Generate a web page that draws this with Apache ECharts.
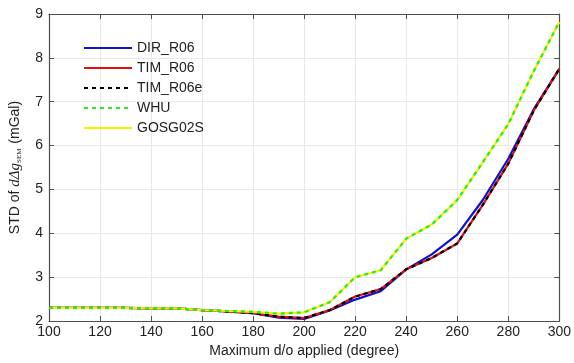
<!DOCTYPE html>
<html>
<head>
<meta charset="utf-8">
<script src="https://cdn.jsdelivr.net/npm/echarts@6/dist/echarts.min.js"></script>
<style>
  html, body { margin: 0; padding: 0; background: #fff; }
  #chart { width: 574px; height: 363px; }
</style>
</head>
<body>
<div id="chart"></div>
<script>
const degrees = [100, 110, 120, 130, 140, 150, 160, 170, 180, 190, 200, 210, 220, 230, 240, 250, 260, 270, 280, 290, 300];

const dirR06 = [2.3, 2.3, 2.3, 2.3, 2.29, 2.29, 2.25, 2.22, 2.18, 2.08, 2.05, 2.24, 2.49, 2.68, 3.18, 3.52, 3.97, 4.76, 5.7, 6.83, 7.75];
const timR06 = [2.3, 2.3, 2.3, 2.3, 2.29, 2.29, 2.25, 2.22, 2.18, 2.1, 2.07, 2.25, 2.56, 2.73, 3.18, 3.44, 3.77, 4.65, 5.59, 6.8, 7.75];
const timR06e = [2.3, 2.3, 2.3, 2.3, 2.29, 2.29, 2.25, 2.22, 2.18, 2.1, 2.07, 2.25, 2.56, 2.73, 3.18, 3.44, 3.77, 4.65, 5.59, 6.8, 7.75];
const whu = [2.3, 2.3, 2.3, 2.3, 2.29, 2.29, 2.25, 2.23, 2.21, 2.17, 2.2, 2.43, 3.0, 3.16, 3.88, 4.2, 4.76, 5.62, 6.49, 7.7, 8.82];
const gosg02s = [2.3, 2.3, 2.3, 2.3, 2.29, 2.29, 2.25, 2.23, 2.21, 2.17, 2.2, 2.43, 3.0, 3.16, 3.88, 4.2, 4.76, 5.62, 6.49, 7.7, 8.82];

const xTicks = [100, 120, 140, 160, 180, 200, 220, 240, 260, 280, 300];
const yTicks = [2, 3, 4, 5, 6, 7, 8, 9];

const pairs = vals => degrees.map((d, i) => [d, vals[i]]);

const font = "Liberation Sans, Arial, sans-serif";
const axisColor = "#4d4d4d";
const gridColor = "#e8e8e8";

const line = (name, vals, color, dashed, z) => ({
  name,
  type: "line",
  data: pairs(vals),
  showSymbol: false,
  symbol: "none",
  z,
  lineStyle: { color, width: 2.2, type: dashed ? [4, 4] : "solid" },
  itemStyle: { color },
});

const xBase = {
  type: "value",
  min: 100,
  max: 300,
  interval: 20,
  axisLine: { show: true, onZero: false, lineStyle: { color: axisColor, width: 1.2 } },
  axisTick: { show: true, inside: true, length: 5, lineStyle: { color: axisColor } },
};
const yBase = {
  type: "value",
  min: 2,
  max: 9,
  interval: 1,
  axisLine: { show: true, onZero: false, lineStyle: { color: axisColor, width: 1.2 } },
  axisTick: { show: true, inside: true, length: 5, lineStyle: { color: axisColor } },
};

const chart = echarts.init(document.getElementById("chart"));
chart.setOption({
  backgroundColor: "#fff",
  animation: false,
  grid: { left: 48, right: 12, top: 14, bottom: 39 },
  legend: {
    left: 78,
    top: 36,
    orient: "vertical",
    itemWidth: 48,
    itemHeight: 14,
    itemGap: 6,
    itemStyle: { opacity: 0 },
    textStyle: { fontFamily: font, fontSize: 14, color: "#222" },
    data: ["DIR_R06", "TIM_R06", "TIM_R06e", "WHU", "GOSG02S"],
  },
  xAxis: [
    {
      ...xBase,
      position: "bottom",
      name: "Maximum d/o applied (degree)",
      nameLocation: "middle",
      nameGap: 22,
      nameTextStyle: { fontFamily: font, fontSize: 14, color: "#222" },
      axisLabel: {
        fontFamily: font, fontSize: 14, color: "#222", margin: 4,
        formatter: v => (xTicks.includes(v) ? String(v) : ""),
      },
      splitLine: { show: true, lineStyle: { color: gridColor } },
    },
    { ...xBase, position: "top", axisLabel: { show: false }, splitLine: { show: false } },
  ],
  yAxis: [
    {
      ...yBase,
      position: "left",
      name: "{t|STD of }{i|dΔg}{s|SEM}{t| (mGal)}",
      nameLocation: "middle",
      nameGap: 26,
      nameRotate: 90,
      nameTextStyle: {
        rich: {
          t: { fontFamily: font, fontSize: 14, color: "#222" },
          i: { fontFamily: "Liberation Serif, serif", fontStyle: "italic", fontSize: 15, color: "#222" },
          s: { fontFamily: "Liberation Serif, serif", fontSize: 7, color: "#222", verticalAlign: "bottom", padding: [8, 1, 0, 0] },
        },
      },
      axisLabel: {
        fontFamily: font, fontSize: 14, color: "#222", margin: 6,
        formatter: v => (yTicks.includes(v) ? String(v) : ""),
      },
      splitLine: { show: true, lineStyle: { color: gridColor } },
    },
    { ...yBase, position: "right", axisLabel: { show: false }, splitLine: { show: false } },
  ],
  series: [
    line("DIR_R06", dirR06, "#1010d0", false, 2),
    line("TIM_R06", timR06, "#e01010", false, 3),
    line("TIM_R06e", timR06e, "#000000", true, 4),
    line("WHU", whu, "#22ee22", true, 6),
    line("GOSG02S", gosg02s, "#f5f000", false, 5),
  ],
});
</script>
</body>
</html>
